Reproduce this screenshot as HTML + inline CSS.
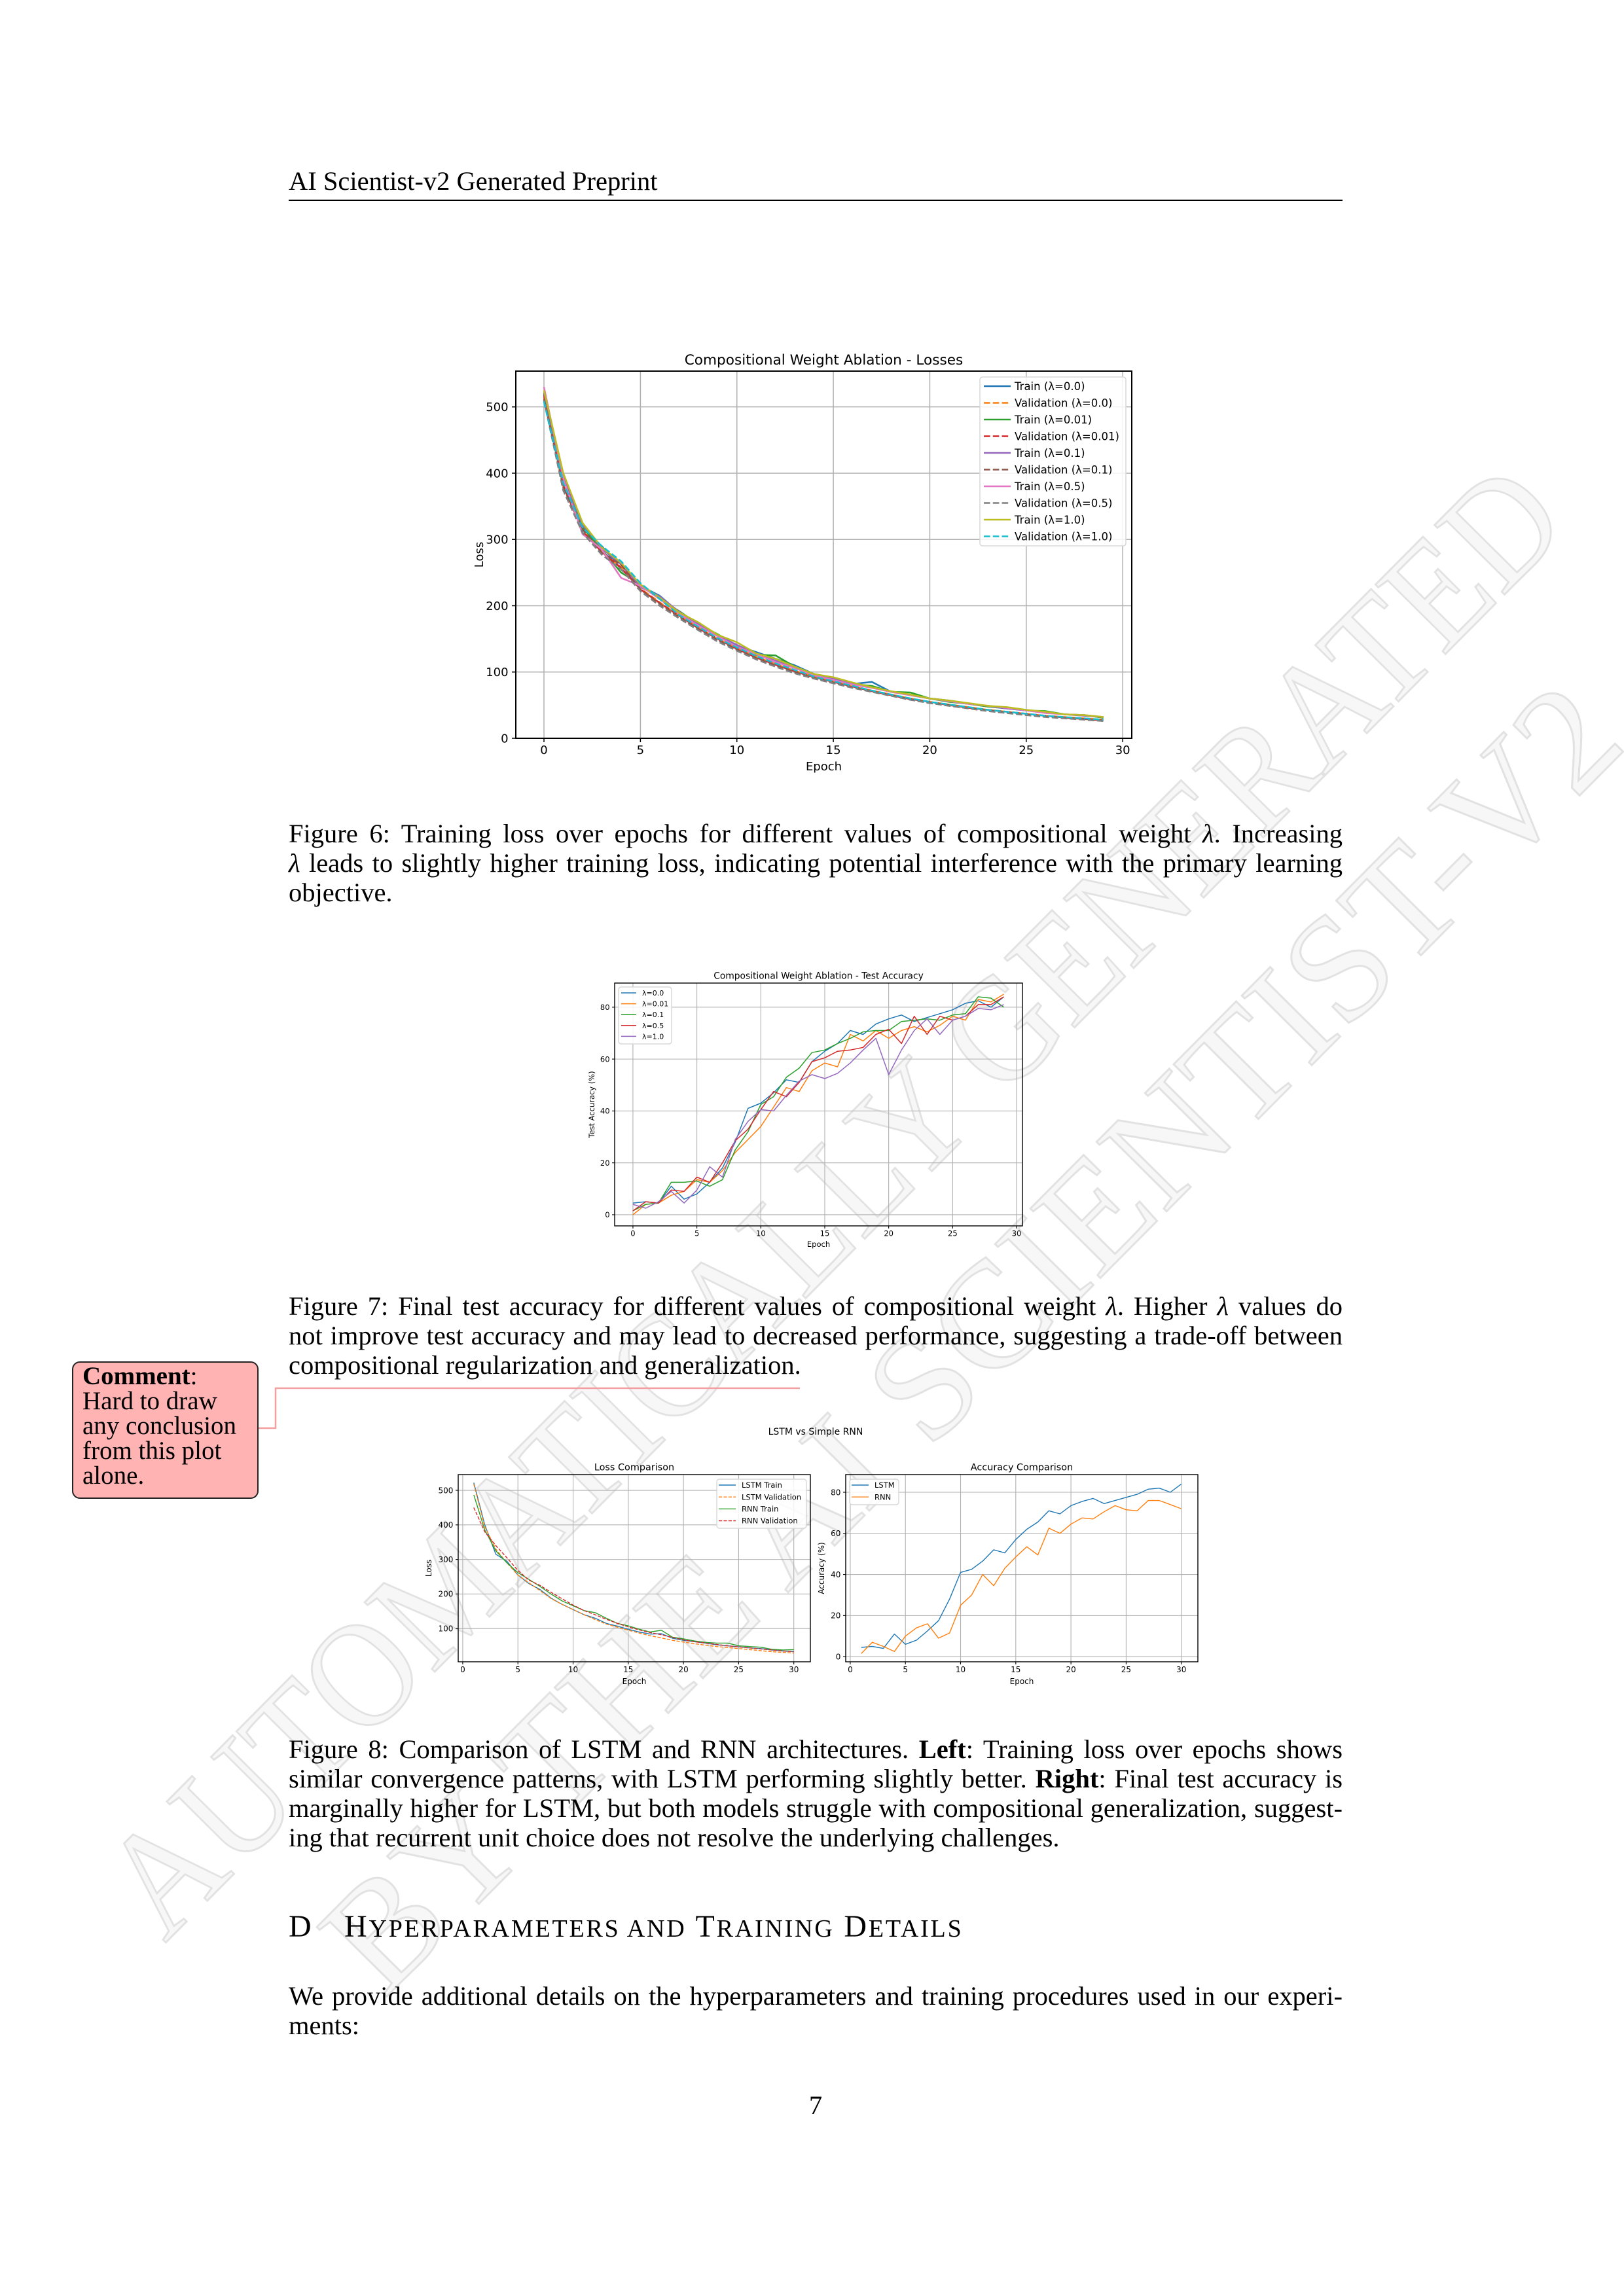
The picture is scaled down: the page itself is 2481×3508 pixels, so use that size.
<!DOCTYPE html>
<html><head><meta charset="utf-8">
<style>
html,body{margin:0;padding:0;background:#fff}
#page{position:relative;width:2481px;height:3508px;overflow:hidden;background:#fff;font-family:"Liberation Serif",serif;color:#000}
.ln{position:absolute;left:441px;width:1610px;font-size:40.5px;line-height:45px;white-space:nowrap}
.j{text-align:justify;text-align-last:justify;white-space:normal}
i{font-style:italic}
.sc{font-size:38px}
svg text{font-family:"DejaVu Sans","Liberation Sans",sans-serif}
</style></head>
<body>
<div id="page">
<svg id="wm" width="2481" height="3508" style="position:absolute;left:0;top:0">
  <text x="0" y="0" transform="translate(1289,1850) rotate(-45.2)" text-anchor="middle" dominant-baseline="middle" font-size="230" textLength="3050" lengthAdjust="spacingAndGlyphs" style="font-family:'Liberation Serif',serif" fill="#f7f7f7" stroke="#e2e2e2" stroke-width="3">AUTOMATICALLY GENERATED</text>
  <text x="0" y="0" transform="translate(1500,2060) rotate(-45.2)" text-anchor="middle" dominant-baseline="middle" font-size="230" textLength="2700" lengthAdjust="spacingAndGlyphs" style="font-family:'Liberation Serif',serif" fill="#f7f7f7" stroke="#e2e2e2" stroke-width="3">BY THE AI SCIENTIST-V2</text>
</svg>

<div style="position:absolute;left:441px;top:254px;font-size:40.5px;line-height:45px">AI Scientist-v2 Generated Preprint</div>
<div style="position:absolute;left:441px;top:305px;width:1610px;height:2px;background:#000"></div>

<svg id="charts" width="2481" height="3508" style="position:absolute;left:0;top:0"></svg>

<div class="ln j" style="top:1251px">Figure 6: Training loss over epochs for different values of compositional weight <i>λ</i>. Increasing</div>
<div class="ln j" style="top:1296px"><i>λ</i> leads to slightly higher training loss, indicating potential interference with the primary learning</div>
<div class="ln" style="top:1341px">objective.</div>

<div class="ln j" style="top:1973px">Figure 7: Final test accuracy for different values of compositional weight <i>λ</i>. Higher <i>λ</i> values do</div>
<div class="ln j" style="top:2018px">not improve test accuracy and may lead to decreased performance, suggesting a trade-off between</div>
<div class="ln" style="top:2063px">compositional regularization and generalization.</div>

<div class="ln j" style="top:2650px">Figure 8: Comparison of LSTM and RNN architectures. <b>Left</b>: Training loss over epochs shows</div>
<div class="ln j" style="top:2695px">similar convergence patterns, with LSTM performing slightly better. <b>Right</b>: Final test accuracy is</div>
<div class="ln j" style="top:2740px">marginally higher for LSTM, but both models struggle with compositional generalization, suggest-</div>
<div class="ln" style="top:2785px">ing that recurrent unit choice does not resolve the underlying challenges.</div>

<div style="position:absolute;left:441px;top:2917px;font-size:48px;line-height:54px">D</div>
<div style="position:absolute;left:526px;top:2917px;font-size:48px;line-height:54px;letter-spacing:2.8px">H<span class="sc">YPERPARAMETERS AND</span> T<span class="sc">RAINING</span> D<span class="sc">ETAILS</span></div>

<div class="ln j" style="top:3027px">We provide additional details on the hyperparameters and training procedures used in our experi-</div>
<div class="ln" style="top:3072px">ments:</div>

<div style="position:absolute;left:1196px;width:100px;text-align:center;top:3194px;font-size:40.5px;line-height:45px">7</div>

<svg width="2481" height="3508" style="position:absolute;left:0;top:0">
  <polyline points="394,2182 421,2182 421,2121 1222,2121" fill="none" stroke="#f4a0a0" stroke-width="2.5"/>
</svg>
<div style="position:absolute;left:110px;top:2080px;width:285px;height:210px;background:#ffb3b3;border:2px solid #222;border-radius:12px;box-sizing:border-box;padding:2px 14px;font-size:39px;line-height:38px">
<b>Comment</b>:<br>Hard to draw<br>any conclusion<br>from this plot<br>alone.</div>
</div>

<script>
// ---------- Figure 6 data (epochs 0-29) ----------
const epochs6 = [0,1,2,3,4,5,6,7,8,9,10,11,12,13,14,15,16,17,18,19,20,21,22,23,24,25,26,27,28,29];
const names6 = ['Train (λ=0.0)','Validation (λ=0.0)','Train (λ=0.01)','Validation (λ=0.01)','Train (λ=0.1)','Validation (λ=0.1)','Train (λ=0.5)','Validation (λ=0.5)','Train (λ=1.0)','Validation (λ=1.0)'];
const train00 = [515,395,310,290,255,230,215,190,172,156,140,130,120,110,97,90,82,85,70,65,60,57,52,48,45,42,40,36,35,31];
const val00   = [515,380,315,282,258,226,205,185,167,150,136,123,112,102,93,86,78,72,66,60,55,51,47,43,40,37,34,32,30,28];
const train001= [520,392,318,285,250,232,210,192,172,157,140,126,125,108,95,90,82,79,70,69,60,55,52,48,46,42,41,36,35,31];
const val001  = [518,382,312,281,257,225,204,185,166,150,135,122,111,101,92,85,78,71,65,59,55,50,46,43,40,37,34,31,29,27];
const train01 = [522,395,322,287,262,228,214,191,172,155,141,127,117,107,97,90,83,77,70,65,60,56,52,49,45,42,39,36,34,32];
const val01   = [512,378,315,280,262,224,203,183,165,148,134,121,110,100,91,84,77,71,65,59,54,50,46,42,39,36,33,31,29,27];
const train05 = [530,392,308,285,242,230,210,188,170,154,138,127,115,106,95,88,81,76,70,65,60,56,52,49,46,42,38,36,35,32];
const val05   = [510,374,310,277,255,222,200,181,163,146,132,119,108,98,90,83,76,70,64,58,53,49,45,41,38,35,32,30,28,26];
const train10 = [525,400,325,288,265,232,212,190,175,156,145,128,120,108,97,92,84,77,71,66,60,57,53,49,47,43,40,36,35,32];
const val10   = [508,385,318,290,267,234,210,186,168,151,137,124,113,103,93,86,79,72,66,60,55,51,47,43,40,37,34,32,30,28];
const xticks6 = [0,5,10,15,20,25,30];
const yticks6 = [0,100,200,300,400,500];

// ---------- Figure 7 data ----------
const epochs7 = [0,1,2,3,4,5,6,7,8,9,10,11,12,13,14,15,16,17,18,19,20,21,22,23,24,25,26,27,28,29];
const names7 = ['λ=0.0','λ=0.01','λ=0.1','λ=0.5','λ=1.0'];
const acc00  = [4.5,5,4.5,11,6,8,12.5,18,28,41,43,47,52,51,59,63,66,71,69.5,73.5,75.5,77,74.5,76,77.5,79,81.5,82.5,80,84];
const acc001 = [0,4,4.5,7.5,9,13.5,12.5,17,24,29,34,41.5,49,47.5,55.5,58.5,57,69.5,67,71,68,71,72.5,70.5,73,76.5,75,83,82,85];
const acc01  = [1.5,4,4.5,12.5,12.5,13,11,13.5,25,32,42.5,45.5,53,56.5,62.5,63.5,66,68,70.5,71,71,74.5,75,75.5,75,77,77.5,84,83.5,80];
const acc05  = [1.5,5,4.5,9.5,9,14.5,12.5,20,28.5,33,40.5,47.5,45.5,51,59,60.5,63,63.5,64.5,69.5,71.5,66,76.5,69.5,76.5,75,76.5,81,81,84];
const acc10  = [4,2.5,5,9,4.5,9.5,18.5,14.5,29,36,40.5,40,46,51.5,54,52.5,54.5,58.5,63.5,68,54,63.5,71,75.5,69.5,75,76.5,79.5,79,81];
const xticks7 = [0,5,10,15,20,25,30];
const yticks7 = [0,20,40,60,80];

// ---------- Figure 8 data (epochs 1-30) ----------
const epochs8 = [1,2,3,4,5,6,7,8,9,10,11,12,13,14,15,16,17,18,19,20,21,22,23,24,25,26,27,28,29,30];
const names8L = ['LSTM Train','LSTM Validation','RNN Train','RNN Validation'];
const lstmTrain = [522,400,315,295,255,230,213,188,170,155,140,130,115,107,98,90,84,85,72,66,62,58,53,50,47,44,42,38,35,33];
const lstmVal   = [518,395,330,290,255,232,210,187,170,155,140,126,113,104,95,87,79,73,66,61,56,52,48,45,42,39,36,33,31,29];
const rnnTrain  = [487,385,325,290,262,242,222,200,180,166,152,146,130,115,108,98,90,95,75,70,64,60,58,58,50,48,46,40,38,39];
const rnnVal    = [450,380,340,305,268,240,225,205,186,168,152,140,127,115,105,96,88,82,74,67,62,58,54,50,47,44,41,38,35,33];
const names8R = ['LSTM','RNN'];
const lstmAcc = [4.5,5,4,11,6,8,12.5,17.5,28,41,42.5,46.5,52,50.5,57,62,65.5,71,69.5,73.5,75.5,77,74.5,76,77.5,79,81.5,82,80,84];
const rnnAcc  = [1.5,7,5,2.5,10,14,16,9,11.5,25,30,40,34.5,43,48.5,53.5,49.5,62.5,60,64.5,67.5,67,70.5,73.5,71.5,71,76,76,74,72];
const xticks8 = [0,5,10,15,20,25,30];
const yticks8L = [100,200,300,400,500];
const yticks8R = [0,20,40,60,80];

const NS = 'http://www.w3.org/2000/svg';
const root = document.getElementById('charts');
const C = ['#1f77b4','#ff7f0e','#2ca02c','#d62728','#9467bd','#8c564b','#e377c2','#7f7f7f','#bcbd22','#17becf'];

function mk(tag, attrs, parent){
  const e = document.createElementNS(NS, tag);
  for (const k in attrs) e.setAttribute(k, attrs[k]);
  parent.appendChild(e);
  return e;
}

function makeAxes(o){
  const g = mk('g', {}, root);
  
  
  const sx = v => o.l + (v - o.xmin) / (o.xmax - o.xmin) * (o.r - o.l);
  const sy = v => o.b - (v - o.ymin) / (o.ymax - o.ymin) * (o.b - o.t);
  o.xticks.forEach(v => {
    const x = sx(v);
    const gl = mk('line', {x1:x, x2:x, y1:o.t, y2:o.b, stroke:'#b0b0b0', 'stroke-width':o.gw}, g);
    
    
    const tk = mk('line', {x1:x, x2:x, y1:o.b, y2:o.b + o.tl, stroke:'#000', 'stroke-width':o.gw}, g);
    
    
    const t = mk('text', {x:x, y:o.b + o.tl + o.fs * 1.0, 'font-size':o.fs, 'text-anchor':'middle', fill:'#000'}, g);
    t.textContent = v;
    
    
  });
  o.yticks.forEach(v => {
    const y = sy(v);
    const gl = mk('line', {x1:o.l, x2:o.r, y1:y, y2:y, stroke:'#b0b0b0', 'stroke-width':o.gw}, g);
    
    
    const tk = mk('line', {x1:o.l - o.tl, x2:o.l, y1:y, y2:y, stroke:'#000', 'stroke-width':o.gw}, g);
    
    
    const t = mk('text', {x:o.l - o.tl - o.fs * 0.3, y:y + o.fs * 0.36, 'font-size':o.fs, 'text-anchor':'end', fill:'#000'}, g);
    t.textContent = v;
    
    
  });
  const fr = mk('rect', {x:o.l, y:o.t, width:o.r - o.l, height:o.b - o.t, fill:'none', stroke:'#000', 'stroke-width':o.fw}, g);
  
  
  const ti = mk('text', {x:(o.l + o.r) / 2, y:o.t - o.fs * 0.55, 'font-size':o.fs * 1.2, 'text-anchor':'middle', fill:'#000'}, g);
  ti.textContent = o.title;
  
  
  const xl = mk('text', {x:(o.l + o.r) / 2, y:o.xly, 'font-size':o.fs, 'text-anchor':'middle', fill:'#000'}, g);
  xl.textContent = o.xlabel;
  
  
  const yl = mk('text', {x:0, y:0, 'font-size':o.fs, 'text-anchor':'middle', fill:'#000', transform:'translate(' + o.ylx + ',' + (o.t + o.b) / 2 + ') rotate(-90)'}, g);
  yl.textContent = o.ylabel;
  
  
  return {g, sx, sy, o};
}

function addLine(ax, xs, ys, color, dashed, label){
  const pts = xs.map((x, i) => ax.sx(x).toFixed(1) + ',' + ax.sy(ys[i]).toFixed(1)).join(' ');
  const p = mk('polyline', {points:pts, fill:'none', stroke:color, 'stroke-width':ax.o.lw, 'stroke-linejoin':'round'}, ax.g);
  if (dashed) p.setAttribute('stroke-dasharray', (ax.o.lw * 3.7) + ',' + (ax.o.lw * 1.6));
  
  
}

function addLegend(ax, lg, labels, colors, dashes){
  const g = mk('g', {}, ax.g);
  
  
  const bx = mk('rect', {x:lg.x, y:lg.y, width:lg.w, height:lg.h, rx:4, fill:'#fff', 'fill-opacity':0.85, stroke:'#d8d8d8', 'stroke-width':1.5}, g);
  
  
  labels.forEach((lab, i) => {
    const cy = lg.cy0 + i * lg.dy;
    const ln = mk('line', {x1:lg.lx1, x2:lg.lx2, y1:cy, y2:cy, stroke:colors[i], 'stroke-width':ax.o.lw}, g);
    if (dashes[i]) ln.setAttribute('stroke-dasharray', (ax.o.lw * 3.7) + ',' + (ax.o.lw * 1.6));
    
    
    const t = mk('text', {x:lg.tx, y:cy + lg.fs * 0.36, 'font-size':lg.fs, fill:'#000'}, g);
    t.textContent = lab;
    
    
  });
}

// Figure 6
const ax6 = makeAxes({name:'figure-6-loss-chart', l:788, t:567, r:1729, b:1128, xmin:-1.46, xmax:30.47, ymin:0, ymax:554,
  xticks:xticks6, yticks:yticks6, fs:18, tl:6, gw:1.5, fw:2, lw:2.6,
  title:'Compositional Weight Ablation - Losses', xlabel:'Epoch', ylabel:'Loss', xly:1177, ylx:738});
const series6 = [train00,val00,train001,val001,train01,val01,train05,val05,train10,val10];
series6.forEach((s, i) => addLine(ax6, epochs6, s, C[i], i % 2 === 1, names6[i]));
addLegend(ax6, {x:1497, y:576, w:223, h:258, cy0:590, dy:25.5, lx1:1503, lx2:1544, tx:1550, fs:16.5}, names6, C, names6.map((n, i) => i % 2 === 1));

// Figure 7
const ax7 = makeAxes({name:'figure-7-accuracy-chart', l:939, t:1502, r:1562, b:1873, xmin:-1.43, xmax:30.46, ymin:-4.3, ymax:89.3,
  xticks:xticks7, yticks:yticks7, fs:11.5, tl:4, gw:1.1, fw:1.4, lw:1.5,
  title:'Compositional Weight Ablation - Test Accuracy', xlabel:'Epoch', ylabel:'Test Accuracy (%)', xly:1905, ylx:908});
const series7 = [acc00,acc001,acc01,acc05,acc10];
series7.forEach((s, i) => addLine(ax7, epochs7, s, C[i], false, names7[i]));
addLegend(ax7, {x:945, y:1508, w:81, h:87, cy0:1517, dy:16.6, lx1:949, lx2:972, tx:981, fs:11}, names7, C, [false,false,false,false,false]);

// Figure 8 suptitle
const sup = mk('text', {x:1246, y:2192, 'font-size':14, 'text-anchor':'middle', fill:'#000'}, root);
sup.textContent = 'LSTM vs Simple RNN';



// Figure 8 left
const ax8L = makeAxes({name:'figure-8-loss-chart', l:700, t:2253, r:1238, b:2539, xmin:-0.41, xmax:31.5, ymin:3.8, ymax:545.5,
  xticks:xticks8, yticks:yticks8L, fs:12, tl:4, gw:1.1, fw:1.4, lw:1.4,
  title:'Loss Comparison', xlabel:'Epoch', ylabel:'Loss', xly:2573, ylx:659});
addLine(ax8L, epochs8, lstmTrain, C[0], false, names8L[0]);
addLine(ax8L, epochs8, lstmVal, C[1], true, names8L[1]);
addLine(ax8L, epochs8, rnnTrain, C[2], false, names8L[2]);
addLine(ax8L, epochs8, rnnVal, C[3], true, names8L[3]);
addLegend(ax8L, {x:1095, y:2260, w:137, h:75, cy0:2269, dy:18.2, lx1:1098, lx2:1124, tx:1133, fs:11.5}, names8L, [C[0],C[1],C[2],C[3]], [false,true,false,true]);

// Figure 8 right
const ax8R = makeAxes({name:'figure-8-accuracy-chart', l:1292, t:2253, r:1830, b:2539, xmin:-0.41, xmax:31.5, ymin:-2.5, ymax:88.6,
  xticks:xticks8, yticks:yticks8R, fs:12, tl:4, gw:1.1, fw:1.4, lw:1.4,
  title:'Accuracy Comparison', xlabel:'Epoch', ylabel:'Accuracy (%)', xly:2573, ylx:1259});
addLine(ax8R, epochs8, lstmAcc, C[0], false, names8R[0]);
addLine(ax8R, epochs8, rnnAcc, C[1], false, names8R[1]);
addLegend(ax8R, {x:1298, y:2260, w:75, h:39, cy0:2269, dy:18.2, lx1:1301, lx2:1327, tx:1336, fs:11.5}, names8R, [C[0],C[1]], [false,false]);
</script>
</body></html>
